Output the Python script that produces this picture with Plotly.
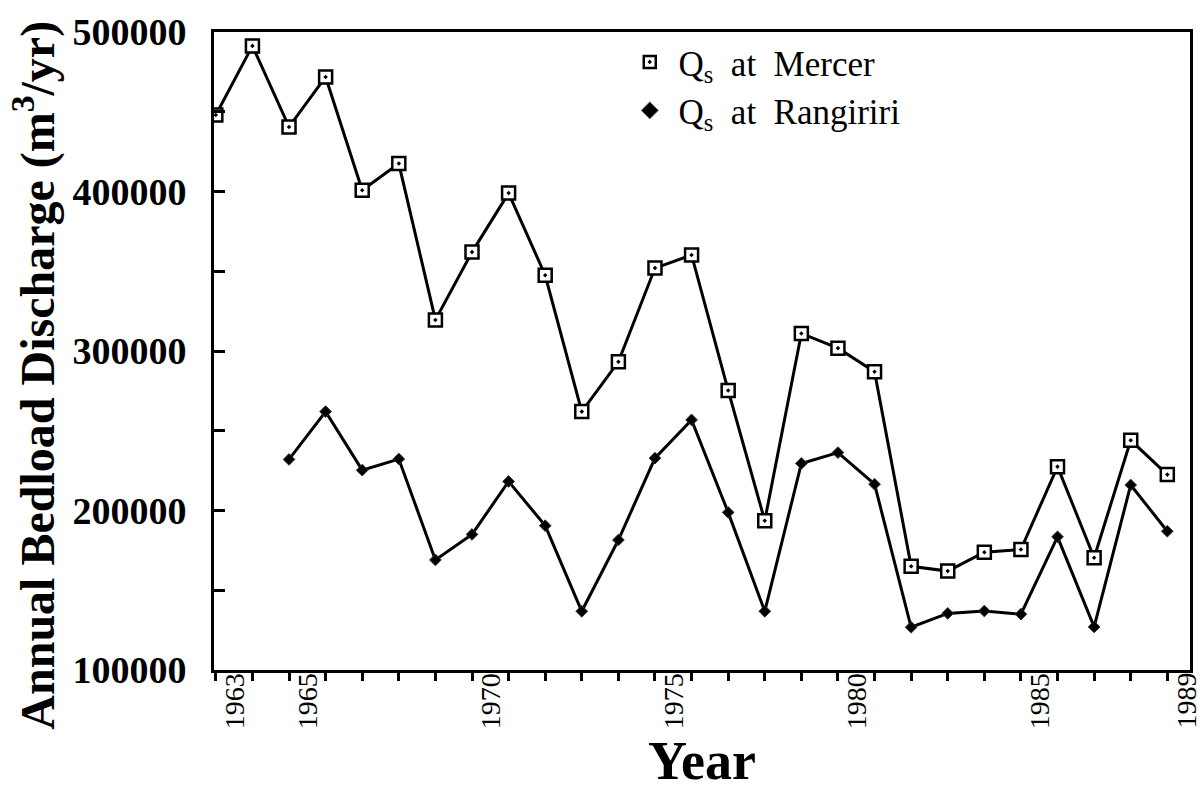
import plotly.graph_objects as go

# Annual bedload discharge (m^3/yr) of the lower Waikato River
years_mercer = list(range(1963, 1990))
qs_mercer = [448000, 491300, 440500, 471800, 400800, 417500, 319500, 362000,
             399000, 347500, 262000, 293200, 352000, 360200, 275300, 193600,
             311000, 301800, 287000, 165000, 162000, 173800, 175600, 227500,
             170400, 244000, 222500]

years_rangiriri = list(range(1965, 1990))
qs_rangiriri = [232000, 262000, 225300, 232300, 169000, 185000, 218200, 190500,
                136800, 181500, 232800, 256800, 198800, 136800, 229500, 236300,
                216500, 126800, 135500, 137000, 135000, 183500, 127000, 216000,
                187000]

label_years = [1963, 1965, 1970, 1975, 1980, 1985, 1989]
y_major = [100000, 200000, 300000, 400000, 500000]

SERIF = "Liberation Serif, Times New Roman, serif"

fig = go.Figure()

fig.add_trace(go.Scatter(
    x=years_mercer, y=qs_mercer, mode="lines+markers", showlegend=False,
    line=dict(color="black", width=3),
    marker=dict(symbol="square-dot", size=13, color="white",
                line=dict(color="black", width=2.5)),
))
fig.add_trace(go.Scatter(
    x=years_rangiriri, y=qs_rangiriri, mode="lines+markers", showlegend=False,
    line=dict(color="black", width=3),
    marker=dict(symbol="diamond", size=9, color="black",
                line=dict(color="#333", width=1)),
))

# legend entries show the symbols only
fig.add_trace(go.Scatter(
    x=[None], y=[None], mode="markers", legendgroup="a",
    name="&nbsp;Q<sub>s</sub>&nbsp;&nbsp;at&nbsp;&nbsp;Mercer",
    marker=dict(symbol="square-dot", size=12, color="white",
                line=dict(color="black", width=2.5)),
))
fig.add_trace(go.Scatter(
    x=[None], y=[None], mode="markers", legendgroup="b",
    name="&nbsp;Q<sub>s</sub>&nbsp;&nbsp;at&nbsp;&nbsp;Rangiriri",
    marker=dict(symbol="diamond", size=13, color="black",
                line=dict(color="#555", width=1)),
))

# year labels sit half a year to the right of their tick marks
year_labels = [
    dict(text=str(y), xref="x", yref="paper", x=y + 0.5, y=0,
         xanchor="center", yanchor="top", yshift=-1, textangle=-90,
         showarrow=False, font=dict(family=SERIF, size=28, color="black"))
    for y in label_years
]

fig.update_layout(
    width=1204, height=791,
    margin=dict(l=214, r=11, t=24, b=121),
    paper_bgcolor="white", plot_bgcolor="white",
    font=dict(family=SERIF, size=24, color="black"),
    legend=dict(
        x=0.426, y=0.999, xanchor="left", yanchor="top",
        bgcolor="rgba(0,0,0,0)", borderwidth=0,
        font=dict(family=SERIF, size=35, color="black"),
        itemwidth=30, tracegroupgap=0, traceorder="grouped",
    ),
    xaxis=dict(
        range=[1962.95, 1989.62],
        tickmode="array", tickvals=[], showticklabels=False,
        ticks="", ticklen=0,
        minor=dict(tick0=1963, dtick=1, ticks="outside", ticklen=8,
                   tickwidth=3, tickcolor="black", showgrid=False),
        showline=True, linecolor="black", linewidth=3, mirror=True,
        showgrid=False, zeroline=False,
    ),
    yaxis=dict(
        range=[100000, 500000],
        tickmode="array",
        tickvals=y_major,
        ticktext=[str(v) for v in y_major],
        ticks="inside", ticklen=11, tickwidth=3, tickcolor="black",
        ticklabelstandoff=17,
        tickfont=dict(family=SERIF, size=38, color="black", weight="bold"),
        minor=dict(dtick=50000, tick0=100000, ticks="inside", ticklen=11,
                   tickwidth=3, tickcolor="black", showgrid=False),
        showline=True, linecolor="black", linewidth=3, mirror=True,
        showgrid=False, zeroline=False,
    ),
    annotations=year_labels + [
        dict(text="<b>Annual Bedload Discharge (m<sup>3</sup>/yr)</b>",
             xref="paper", yref="paper", x=-0.184, y=0.462,
             xanchor="center", yanchor="middle", textangle=-90,
             showarrow=False, font=dict(family=SERIF, size=48, color="black")),
        dict(text="<b>Year</b>",
             xref="paper", yref="paper", x=0.5, y=-0.143,
             xanchor="center", yanchor="middle",
             showarrow=False, font=dict(family=SERIF, size=54, color="black")),
    ],
)

fig.write_html("out.html")
